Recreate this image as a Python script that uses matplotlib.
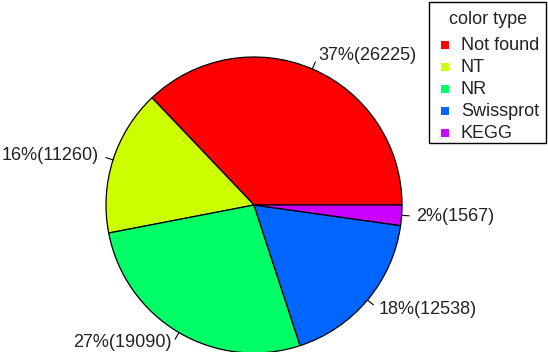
import matplotlib
matplotlib.use("Agg")
import matplotlib.pyplot as plt
from matplotlib.patches import Rectangle
import numpy as np

plt.rcParams["font.family"] = ["Liberation Sans", "DejaVu Sans"]

categories = ["Not found", "NT", "NR", "Swissprot", "KEGG"]
counts = [26225, 11260, 19090, 12538, 1567]
pct_labels = ["37%", "16%", "27%", "18%", "2%"]
colors = ["#FF0000", "#CCFF00", "#00FF66", "#0066FF", "#CC00FF"]

W, H = 548, 352
CX, CY, R = 254, H - 205, 148
TXT = "#222222"

fig = plt.figure(figsize=(W / 100, H / 100), dpi=100, facecolor="white")
ax = fig.add_axes([0, 0, 1, 1])

wedges, _ = ax.pie(counts, colors=colors, startangle=0, counterclock=True,
                   radius=R, center=(CX, CY),
                   wedgeprops=dict(edgecolor="black", linewidth=0.9))

# R-style labels: short tick from edge, text at 1.1 radius
fr = np.cumsum([0] + counts) / sum(counts)
for i, (p, n) in enumerate(zip(pct_labels, counts)):
    mid = np.pi * (fr[i] + fr[i + 1])
    c, s = np.cos(mid), np.sin(mid)
    ax.plot([CX + R * c, CX + 1.05 * R * c], [CY + R * s, CY + 1.05 * R * s],
            color="black", lw=0.8)
    # nudge the bottom label up a touch so it stays inside the canvas
    dy = 2.5 if s < -0.8 else 0
    ax.text(CX + 1.1 * R * c, CY + 1.1 * R * s + dy,
            f"{p}({n})", ha="left" if c > 0 else "right", va="center",
            fontsize=13, color=TXT)

# legend box, drawn in pixel coords (y measured from top)
ax.add_patch(Rectangle((429, H - 143), 117, 141, facecolor="white",
                       edgecolor="black", lw=1.0, zorder=5))
ax.text(488, H - 20, "color type", ha="center", va="center",
        fontsize=13, color=TXT, zorder=6)
for k, (lab, col) in enumerate(zip(categories, colors)):
    y = H - (45 + 22 * k)
    ax.add_patch(Rectangle((441, y - 4), 8, 8, facecolor=col,
                           edgecolor="none", zorder=6))
    ax.text(461, y, lab, ha="left", va="center", fontsize=13,
            color=TXT, zorder=6)

ax.set_xlim(0, W)
ax.set_ylim(0, H)
ax.set_aspect("equal")
ax.set_axis_off()

fig.savefig("out.png", dpi=100, facecolor="white")
